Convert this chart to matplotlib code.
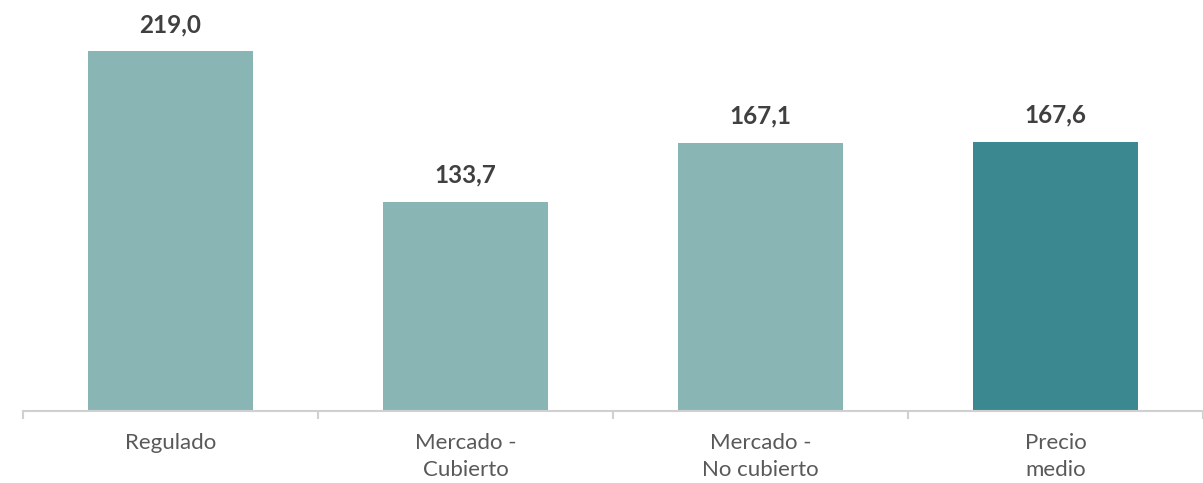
import matplotlib.pyplot as plt

categorias = ['Regulado', 'Mercado -\nCubierto', 'Mercado -\nNo cubierto', 'Precio\nmedio']
valores = [219.0, 133.7, 167.1, 167.6]
colores = ['#8AB5B5', '#8AB5B5', '#8AB5B5', '#3B8891']
etiquetas = ['219,0', '133,7', '167,1', '167,6']

plt.rcParams['font.family'] = ['Lato', 'DejaVu Sans']

fig = plt.figure(figsize=(12.03, 4.83), dpi=100)
ax = fig.add_axes([23 / 1203, 72 / 483, 1180 / 1203, 411 / 483])

x = range(len(categorias))
ax.bar(x, valores, width=0.556, color=colores)
for i, v in enumerate(valores):
    ax.text(i, v + 8.5, etiquetas[i], ha='center', va='bottom',
            fontsize=17.5, fontweight='bold', color='#404040')

ax.set_xlim(-0.5, 3.5)
ax.set_ylim(15.6, 247.8)
ax.set_yticks([])
for s in ['top', 'right', 'left']:
    ax.spines[s].set_visible(False)
ax.spines['bottom'].set_color('#D0D0D0')
ax.spines['bottom'].set_linewidth(1.5)

ax.set_xticks([-0.5, 0.5, 1.5, 2.5, 3.5])
ax.set_xticklabels([])
ax.tick_params(axis='x', length=6, width=1.5, color='#D0D0D0')
ax.set_xticks(list(x), minor=True)
ax.set_xticklabels(categorias, minor=True, fontsize=16, color='#595959',
                   linespacing=1.4, va='top')
ax.tick_params(axis='x', which='minor', length=0, pad=16)

fig.savefig('out.png', dpi=100)
